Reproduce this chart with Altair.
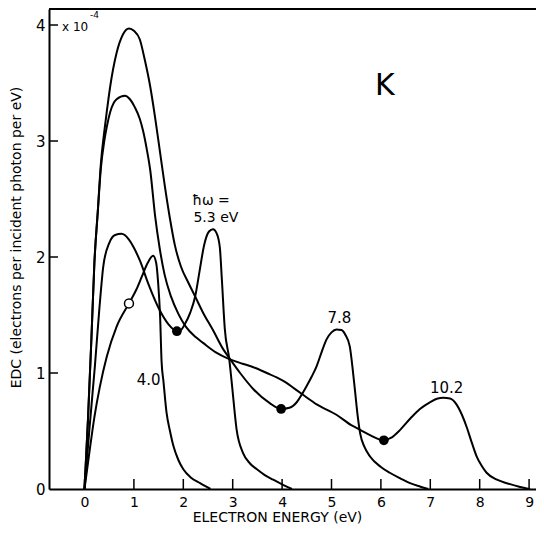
import altair as alt
import pandas as pd

# ---- data (electron energy in eV, EDC in units of 1e-4) ----
# hbar*omega = 4.0 eV
x_40 = [0, 0.1, 0.2, 0.31, 0.45, 0.65, 0.9, 1.05, 1.16, 1.28, 1.39, 1.45, 1.49, 1.53, 1.56, 1.6, 1.66, 1.73, 1.8, 1.9, 2.0, 2.15, 2.34, 2.55]
y_40 = [0, 0.32, 0.62, 0.88, 1.14, 1.40, 1.60, 1.72, 1.83, 1.95, 2.01, 1.95, 1.78, 1.49, 1.10, 0.92, 0.66, 0.50, 0.37, 0.25, 0.17, 0.10, 0.05, 0]

# hbar*omega = 5.3 eV
x_53 = [0, 0.1, 0.21, 0.3, 0.38, 0.5, 0.62, 0.75, 0.9, 1.0, 1.12, 1.3, 1.5, 1.7, 1.87, 1.95, 2.03, 2.14, 2.24, 2.33, 2.42, 2.52, 2.6, 2.68, 2.74, 2.78, 2.84, 2.93, 2.98, 3.08, 3.21, 3.35, 3.49, 3.65, 3.82, 4.0, 4.2]
y_53 = [0, 0.52, 1.06, 1.55, 1.92, 2.12, 2.19, 2.20, 2.15, 2.08, 1.97, 1.76, 1.56, 1.42, 1.36, 1.37, 1.42, 1.52, 1.66, 1.88, 2.10, 2.22, 2.24, 2.20, 2.08, 1.81, 1.38, 1.12, 0.92, 0.51, 0.31, 0.22, 0.17, 0.12, 0.08, 0.04, 0]

# hbar*omega = 7.8 eV
x_78 = [0, 0.07, 0.14, 0.2, 0.27, 0.33, 0.4, 0.45, 0.52, 0.65, 0.78, 0.9, 1.0, 1.12, 1.22, 1.33, 1.43, 1.53, 1.63, 1.73, 1.83, 1.95, 2.1, 2.24, 2.4, 2.6, 2.8, 2.93, 3.15, 3.42, 3.75, 3.98, 4.15, 4.3, 4.42, 4.5, 4.6, 4.7, 4.8, 4.9, 5.0, 5.1, 5.2, 5.28, 5.37, 5.43, 5.48, 5.53, 5.58, 5.67, 5.78, 6.0, 6.18, 6.4, 6.59, 6.8, 6.96]
y_78 = [0, 0.6, 1.3, 1.95, 2.4, 2.8, 3.08, 3.25, 3.47, 3.76, 3.92, 3.97, 3.95, 3.875, 3.70, 3.47, 3.20, 2.90, 2.60, 2.33, 2.10, 1.92, 1.78, 1.66, 1.52, 1.37, 1.21, 1.13, 1.00, 0.86, 0.74, 0.69, 0.70, 0.75, 0.83, 0.89, 0.97, 1.06, 1.18, 1.29, 1.35, 1.375, 1.37, 1.33, 1.23, 1.03, 0.83, 0.63, 0.48, 0.36, 0.28, 0.19, 0.14, 0.09, 0.05, 0.02, 0]

# hbar*omega = 10.2 eV
x_102 = [0, 0.07, 0.14, 0.2, 0.27, 0.33, 0.4, 0.45, 0.52, 0.65, 0.82, 0.92, 1.02, 1.12, 1.19, 1.26, 1.33, 1.43, 1.52, 1.62, 1.75, 1.9, 2.05, 2.25, 2.4, 2.65, 2.93, 3.2, 3.42, 3.69, 3.9, 4.09, 4.25, 4.43, 4.7, 5.1, 5.4, 5.58, 5.8, 5.95, 6.06, 6.2, 6.39, 6.6, 6.79, 7.0, 7.15, 7.26, 7.4, 7.53, 7.64, 7.74, 7.84, 7.94, 8.04, 8.14, 8.35, 8.55, 8.8, 9.02]
y_102 = [0, 0.6, 1.3, 1.95, 2.4, 2.76, 3.0, 3.12, 3.25, 3.36, 3.39, 3.36, 3.29, 3.19, 3.08, 2.93, 2.75, 2.35, 2.08, 1.85, 1.66, 1.51, 1.40, 1.31, 1.26, 1.18, 1.12, 1.08, 1.05, 1.00, 0.96, 0.915, 0.865, 0.81, 0.73, 0.64, 0.55, 0.51, 0.46, 0.43, 0.42, 0.44, 0.51, 0.61, 0.69, 0.75, 0.78, 0.786, 0.78, 0.73, 0.64, 0.53, 0.40, 0.28, 0.20, 0.14, 0.08, 0.05, 0.02, 0]

# marked points
open_x = [0.90]
open_y = [1.60]
dot_x = [1.87, 3.98, 6.06]
dot_y = [1.36, 0.69, 0.42]

# axis ticks
x_ticks = [0, 1, 2, 3, 4, 5, 6, 7, 8, 9]
y_ticks = [0, 1, 2, 3, 4]

# curve labels
label_text = ["4.0", "7.8", "10.2"]
label_x = [1.30, 5.16, 7.33]
label_y = [0.94, 1.47, 0.87]

# ---- build tables ----
rows = []
for name, xs, ys in [("4.0", x_40, y_40), ("5.3", x_53, y_53), ("7.8", x_78, y_78), ("10.2", x_102, y_102)]:
    for i, (a, b) in enumerate(zip(xs, ys)):
        rows.append({"series": name, "E": a, "EDC": b, "i": i})
df = pd.DataFrame(rows)

W, H = 487, 480
FONT = "DejaVu Sans"
x_scale = alt.Scale(domain=[-0.719, 9.14], nice=False, zero=False)
y_scale = alt.Scale(domain=[0, 4.138], nice=False, zero=False)

x_axis = alt.Axis(values=x_ticks, title="ELECTRON ENERGY (eV)", ticks=False, grid=False,
                  domainColor="black", domainWidth=2, labelFont=FONT, labelFontSize=14,
                  labelColor="black", labelPadding=6, titleFont=FONT, titleFontSize=14,
                  titleFontWeight="normal", titleColor="black", titleX=228, titleY=32,
                  titleBaseline="alphabetic", titleAlign="center", format="d")
y_axis = alt.Axis(values=y_ticks, title="EDC (electrons per incident photon per eV)", ticks=False,
                  grid=False, domainColor="black", domainWidth=2, labelFont=FONT, labelFontSize=15,
                  labelColor="black", labelPadding=4, titleFont=FONT, titleFontSize=14,
                  titleFontWeight="normal", titleColor="black", titleX=-33, titleY=228,
                  titleAngle=270, titleBaseline="middle", titleAlign="center", format="d")

lines = alt.Chart(df).mark_line(interpolate="monotone", color="black", strokeWidth=2).encode(
    x=alt.X("E:Q", scale=x_scale, axis=x_axis),
    y=alt.Y("EDC:Q", scale=y_scale, axis=y_axis),
    detail="series:N",
    order="i:Q",
)

dots = alt.Chart(pd.DataFrame({"E": dot_x, "EDC": dot_y})).mark_point(
    shape="circle", filled=True, color="black", size=95, opacity=1).encode(
    x=alt.X("E:Q", scale=x_scale), y=alt.Y("EDC:Q", scale=y_scale))

opens = alt.Chart(pd.DataFrame({"E": open_x, "EDC": open_y})).mark_point(
    shape="circle", filled=True, fill="white", stroke="black", strokeWidth=1.5, size=80, opacity=1).encode(
    x=alt.X("E:Q", scale=x_scale), y=alt.Y("EDC:Q", scale=y_scale))

xt = alt.Chart(pd.DataFrame({"E": x_ticks})).mark_rule(color="black", strokeWidth=1.5).encode(
    x=alt.X("E:Q", scale=x_scale), y=alt.value(H), y2=alt.value(H - 10))
yt = alt.Chart(pd.DataFrame({"EDC": y_ticks[1:]})).mark_rule(color="black", strokeWidth=1.5).encode(
    y=alt.Y("EDC:Q", scale=y_scale), x=alt.value(0), x2=alt.value(9))
top = alt.Chart(pd.DataFrame({"a": [0]})).mark_rule(color="black", strokeWidth=2).encode(
    x=alt.value(0), x2=alt.value(W), y=alt.value(0))

labels = alt.Chart(pd.DataFrame({"t": label_text, "E": label_x, "EDC": label_y})).mark_text(
    font=FONT, fontSize=15, color="black", align="center", baseline="middle").encode(
    x=alt.X("E:Q", scale=x_scale), y=alt.Y("EDC:Q", scale=y_scale), text="t:N")

hw = alt.Chart(pd.DataFrame({"t": ["ħω =", "5.3 eV"], "E": [2.56, 2.66], "EDC": [2.487, 2.336]})).mark_text(
    font=FONT, fontSize=14, color="black", align="center", baseline="middle").encode(
    x=alt.X("E:Q", scale=x_scale), y=alt.Y("EDC:Q", scale=y_scale), text="t:N")

kmark = alt.Chart(pd.DataFrame({"t": ["K"], "E": [6.08], "EDC": [3.47]})).mark_text(
    font=FONT, fontSize=30, color="black", align="center", baseline="middle").encode(
    x=alt.X("E:Q", scale=x_scale), y=alt.Y("EDC:Q", scale=y_scale), text="t:N")

mult = alt.Chart(pd.DataFrame({"t": ["x 10"], "E": [-0.455], "EDC": [3.987]})).mark_text(
    font=FONT, fontSize=12, color="black", align="left", baseline="middle").encode(
    x=alt.X("E:Q", scale=x_scale), y=alt.Y("EDC:Q", scale=y_scale), text="t:N")
expo = alt.Chart(pd.DataFrame({"t": ["-4"], "E": [0.11], "EDC": [4.085]})).mark_text(
    font=FONT, fontSize=9, color="black", align="left", baseline="middle").encode(
    x=alt.X("E:Q", scale=x_scale), y=alt.Y("EDC:Q", scale=y_scale), text="t:N")

chart = alt.layer(lines, opens, dots, xt, yt, top, labels, hw, kmark, mult, expo).properties(
    width=W, height=H,
    autosize=alt.AutoSizeParams(type="none"),
    padding={"left": 41, "top": 1, "right": 0, "bottom": 36},
    background="white",
).configure_view(stroke=None)

chart.save("out.html", embed_options={"renderer": "svg", "actions": False})
